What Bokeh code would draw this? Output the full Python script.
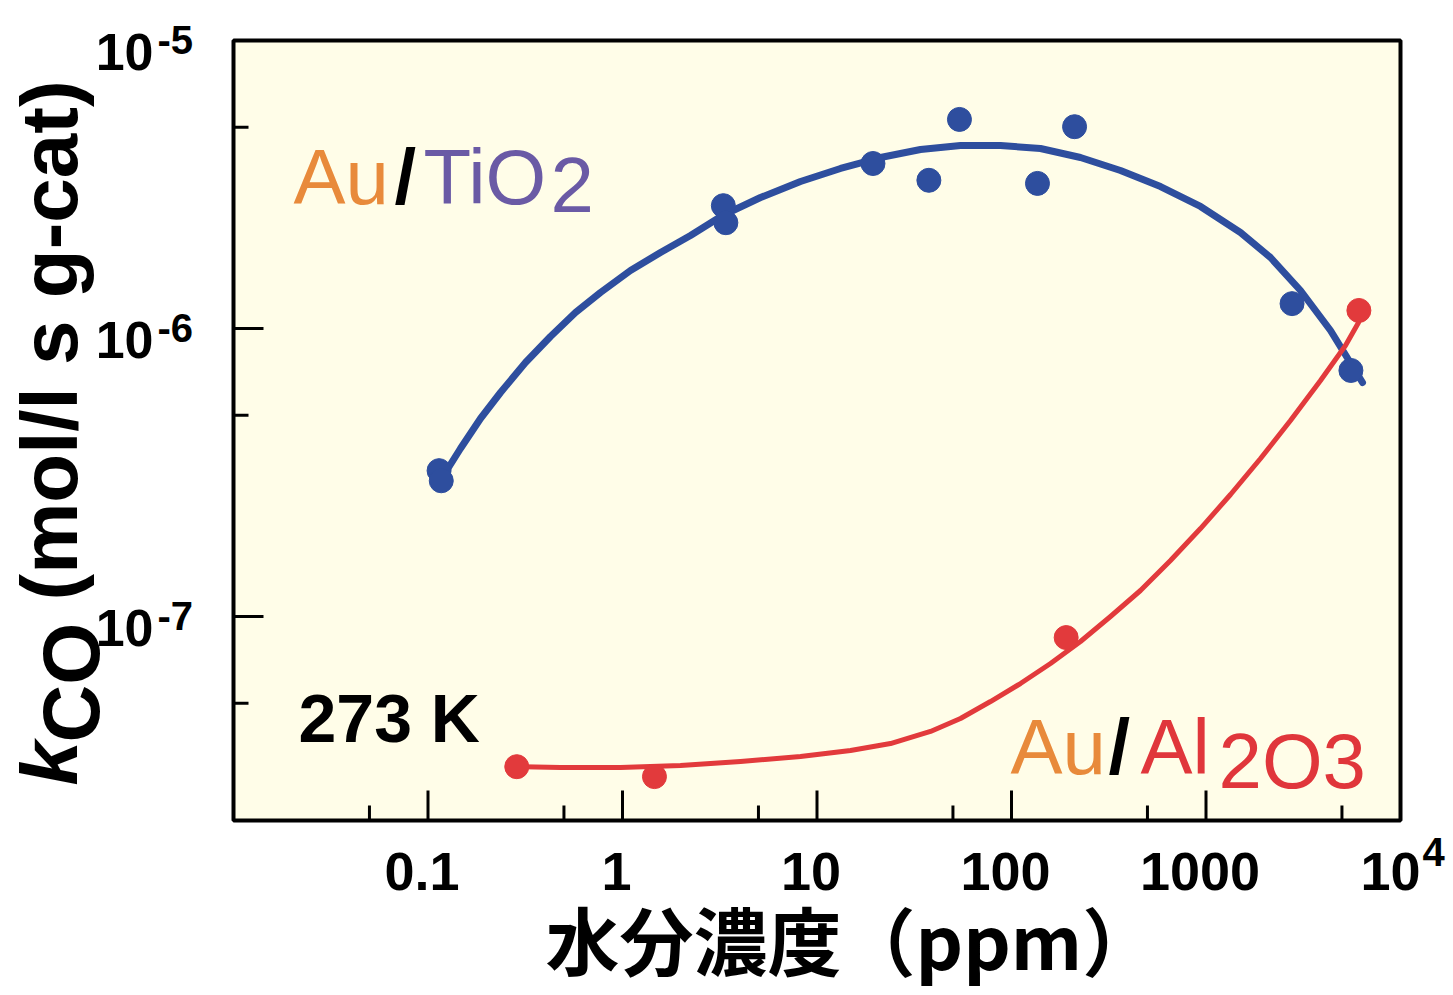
import math
from bokeh.plotting import figure
from bokeh.models import Range1d, Label
from bokeh.embed import file_html
from bokeh.resources import INLINE

# ---------------- data ----------------
tio2_x = [0.114, 0.117, 3.3, 3.4, 19.4, 37.6, 54, 136, 211, 2770, 5560]
tio2_y = [3.21e-7, 2.96e-7, 2.67e-6, 2.33e-6, 3.74e-6, 3.27e-6, 5.32e-6, 3.19e-6, 5.02e-6, 1.22e-6, 7.15e-7]

al2o3_x = [0.286, 1.46, 191, 6110]
al2o3_y = [3.01e-8, 2.78e-8, 8.45e-8, 1.155e-6]

tio2_fit_x = [0.1202, 0.1469, 0.1862, 0.2360, 0.3172, 0.4264, 0.5732, 0.7706, 1.099, 1.568,
              2.237, 3.267, 5.123, 8.226, 13.21, 21.21, 34.05, 54.67, 87.78, 140.9,
              226.3, 363.4, 583.5, 936.9, 1504, 2146, 3061, 4367, 6377]
tio2_fit_y = [3.087e-7, 3.831e-7, 4.870e-7, 5.995e-7, 7.619e-7, 9.380e-7, 1.137e-6, 1.334e-6, 1.590e-6, 1.836e-6,
              2.103e-6, 2.468e-6, 2.850e-6, 3.238e-6, 3.594e-6, 3.924e-6, 4.183e-6, 4.319e-6, 4.319e-6, 4.217e-6,
              3.924e-6, 3.537e-6, 3.111e-6, 2.653e-6, 2.154e-6, 1.764e-6, 1.355e-6, 9.842e-7, 6.494e-7]

al2o3_fit_x = [0.2656, 0.4801, 0.9766, 1.987, 4.044, 8.226, 14.87, 23.87, 38.33, 54.67, 77.98, 111.2,
               158.7, 226.3, 322.8, 460.4, 656.9, 936.9, 1337, 1907, 2719, 3879, 5214, 6085]
al2o3_fit_y = [3.014e-8, 2.990e-8, 2.990e-8, 3.038e-8, 3.137e-8, 3.265e-8, 3.425e-8, 3.622e-8, 3.989e-8, 4.424e-8,
               5.067e-8, 5.851e-8, 6.866e-8, 8.186e-8, 1.0e-7, 1.231e-7, 1.564e-7, 2.020e-7, 2.652e-7, 3.537e-7,
               4.792e-7, 6.597e-7, 8.730e-7, 1.049e-6]

x_major = [0.1, 1, 10, 100, 1000]
x_minor = [0.05, 0.5, 5, 50, 500, 5000]
x_tick_labels = ["0.1", "1", "10", "100", "1000"]
y_major = [1e-7, 1e-6]
y_minor = [5e-8, 5e-7, 5e-6]
y_label_ticks = [1e-5, 1e-6, 1e-7]
y_tick_exps = ["-5", "-6", "-7"]

# ---------------- layout ----------------
W, H = 1453, 995
FL, FT, FW, FH = 233, 40, 1167, 780          # plot box in page pixels
XMIN, XMAX = 0.01, 1e4
DEC_X = FW / 6.0
DEC_Y = 288.0
YMAX = 1e-5
YMIN = 10 ** (-5 - FH / DEC_Y)

LX0 = math.log10(XMIN) - FL / DEC_X
LX1 = math.log10(XMAX) + (W - FL - FW) / DEC_X
LY1 = math.log10(YMAX) + FT / DEC_Y
LY0 = math.log10(YMAX) - (H - FT) / DEC_Y

BLUE = "#2E4E9E"
RED = "#E23A3C"
ORANGE = "#E88A3B"
PURPLE = "#6A5AA5"
TXTRED = "#E0363B"
BG = "#FFFDE8"

p = figure(x_axis_type="log", y_axis_type="log",
           x_range=Range1d(10 ** LX0, 10 ** LX1), y_range=Range1d(10 ** LY0, 10 ** LY1),
           width=W, height=H, min_border=0,
           x_axis_location=None, y_axis_location=None,
           output_backend="svg", toolbar_location=None,
           background_fill_color="white", border_fill_color="white",
           outline_line_color=None)
p.grid.visible = False


def px2x(px):
    return 10 ** (LX0 + px / W * (LX1 - LX0))


def py2y(py):
    return 10 ** (LY1 - py / H * (LY1 - LY0))


# plot box
p.quad(left=[XMIN], right=[XMAX], bottom=[YMIN], top=[YMAX],
       fill_color=BG, line_color=None)

# fitted curves
p.line(tio2_fit_x, tio2_fit_y, line_color=BLUE, line_width=7, line_cap="round", line_join="round")
p.line(al2o3_fit_x, al2o3_fit_y, line_color=RED, line_width=5, line_cap="round", line_join="round")
# data points
p.scatter(tio2_x, tio2_y, size=24, fill_color=BLUE, line_color=BLUE)
p.scatter(al2o3_x, al2o3_y, size=24, fill_color=RED, line_color=RED)

# ticks (inward), bottom and left
MAJ, MIN_ = 30, 15
p.segment(x0=x_major, x1=x_major, y0=[YMIN] * len(x_major),
          y1=[YMIN * 10 ** (MAJ / DEC_Y)] * len(x_major), line_color="black", line_width=3)
p.segment(x0=x_minor, x1=x_minor, y0=[YMIN] * len(x_minor),
          y1=[YMIN * 10 ** (MIN_ / DEC_Y)] * len(x_minor), line_color="black", line_width=3)
p.segment(x0=[XMIN] * len(y_major), x1=[XMIN * 10 ** (MAJ / DEC_X)] * len(y_major),
          y0=y_major, y1=y_major, line_color="black", line_width=3)
p.segment(x0=[XMIN] * len(y_minor), x1=[XMIN * 10 ** (MIN_ / DEC_X)] * len(y_minor),
          y0=y_minor, y1=y_minor, line_color="black", line_width=3)

# frame outline on top
p.quad(left=[XMIN], right=[XMAX], bottom=[YMIN], top=[YMAX],
       fill_color=None, line_color="black", line_width=4)

SHIFT = 0.36  # the label anchor sits ~0.36 em above the glyph baseline


def lab(text, px, py, size, color="black", style="bold", align="left", font="Liberation Sans", rotated=False):
    if rotated:
        ax, ay, ang = px - SHIFT * size, py, math.pi / 2
    else:
        ax, ay, ang = px, py - SHIFT * size, 0.0
    p.add_layout(Label(x=px2x(ax), y=py2y(ay), text=text,
                       text_font=font, text_font_size=f"{size}px", text_font_style=style,
                       text_color=color, text_align=align, text_baseline="alphabetic",
                       angle=ang))


def xpix(v):
    return FL + (math.log10(v) - math.log10(XMIN)) * DEC_X


def ypix(v):
    return FT + (math.log10(YMAX) - math.log10(v)) * DEC_Y


# x tick labels
for v, t in zip(x_major, x_tick_labels):
    lab(t, xpix(v) - 6, 890, 54, align="center")
lab("10", 1420, 890, 54, align="right")
lab("4", 1422, 866, 40)

# y tick labels
for v, e in zip(y_label_ticks, y_tick_exps):
    yy = ypix(v)
    lab("10", 153, yy + 30, 52, align="right")
    lab(e, 157, yy + 14, 40)

# axis titles
lab("水分濃度（ppm）", 545, 964, 74, font="Noto Sans CJK JP")
lab("k", 78, 785, 80, style="bold italic", rotated=True)
lab("CO", 100, 742, 80, rotated=True)
lab("(mol/l s g-cat)", 78, 600, 80, rotated=True)

# in-plot annotations
lab("Au", 293, 205, 78, color=ORANGE, style="normal")
lab("/", 394, 205, 78, color="black", style="bold")
lab("TiO", 423, 205, 78, color=PURPLE, style="normal")
lab("2", 550, 213, 78, color=PURPLE, style="normal")

lab("Au", 1010, 775, 78, color=ORANGE, style="normal")
lab("/", 1108, 775, 78, color="black", style="bold")
lab("Al", 1140, 775, 78, color=TXTRED, style="normal")
lab("2O3", 1218, 789, 78, color=TXTRED, style="normal")

lab("273 K", 298, 742, 68)

open("out.html", "w").write(file_html(p, INLINE))
